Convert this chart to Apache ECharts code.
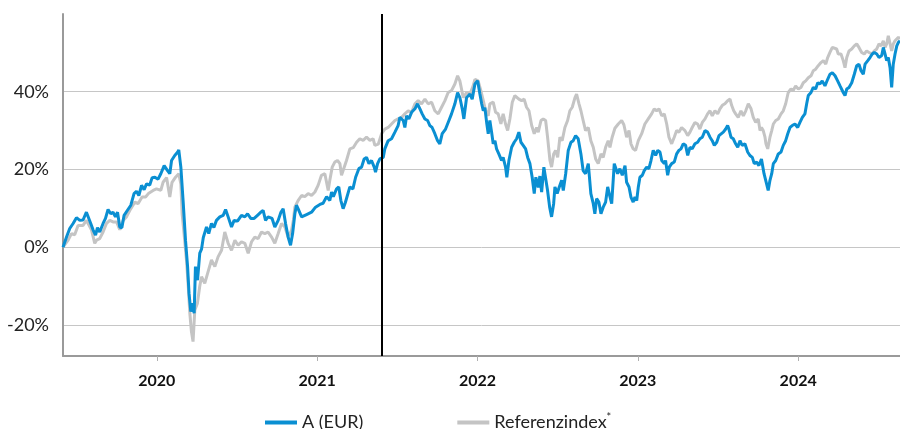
<!DOCTYPE html>
<html>
<head>
<meta charset="utf-8">
<script src="https://cdn.jsdelivr.net/npm/echarts@6/dist/echarts.min.js"></script>
<style>
  html, body { margin: 0; padding: 0; background: #fff; }
  #chart { width: 900px; height: 429px; }
</style>
</head>
<body>
<div id="chart"></div>
<script>
// time in decimal years, values in % since start
var fundTime = [2019.415,2019.437,2019.457,2019.478,2019.499,2019.520,2019.540,2019.561,2019.571,2019.588,2019.603,2019.618,2019.630,2019.644,2019.665,2019.680,2019.696,2019.713,2019.727,2019.742,2019.755,2019.769,2019.782,2019.796,2019.817,2019.838,2019.858,2019.873,2019.888,2019.905,2019.921,2019.936,2019.956,2019.971,2019.988,2020.008,2020.025,2020.046,2020.067,2020.081,2020.092,2020.112,2020.129,2020.137,2020.150,2020.164,2020.179,2020.192,2020.201,2020.212,2020.223,2020.233,2020.241,2020.254,2020.268,2020.279,2020.290,2020.310,2020.324,2020.341,2020.356,2020.372,2020.393,2020.414,2020.429,2020.445,2020.466,2020.482,2020.503,2020.528,2020.549,2020.566,2020.586,2020.607,2020.628,2020.649,2020.663,2020.678,2020.694,2020.719,2020.736,2020.757,2020.774,2020.788,2020.803,2020.819,2020.834,2020.847,2020.861,2020.871,2020.881,2020.903,2020.934,2020.965,2020.990,2021.017,2021.037,2021.059,2021.079,2021.090,2021.101,2021.121,2021.135,2021.148,2021.162,2021.176,2021.204,2021.223,2021.240,2021.260,2021.277,2021.293,2021.308,2021.323,2021.339,2021.356,2021.364,2021.377,2021.391,2021.412,2021.422,2021.443,2021.464,2021.485,2021.505,2021.516,2021.537,2021.547,2021.558,2021.572,2021.589,2021.610,2021.626,2021.641,2021.655,2021.672,2021.689,2021.703,2021.717,2021.734,2021.751,2021.765,2021.780,2021.801,2021.822,2021.838,2021.859,2021.876,2021.890,2021.905,2021.915,2021.932,2021.953,2021.967,2021.984,2022.001,2022.015,2022.026,2022.036,2022.046,2022.057,2022.067,2022.077,2022.088,2022.098,2022.109,2022.119,2022.133,2022.150,2022.160,2022.175,2022.183,2022.196,2022.213,2022.229,2022.244,2022.258,2022.271,2022.285,2022.300,2022.313,2022.327,2022.341,2022.354,2022.364,2022.379,2022.389,2022.400,2022.414,2022.425,2022.437,2022.450,2022.462,2022.475,2022.483,2022.497,2022.510,2022.525,2022.535,2022.550,2022.566,2022.583,2022.597,2022.612,2022.628,2022.645,2022.659,2022.674,2022.691,2022.707,2022.722,2022.732,2022.743,2022.757,2022.770,2022.784,2022.799,2022.812,2022.826,2022.837,2022.853,2022.874,2022.888,2022.903,2022.920,2022.930,2022.945,2022.957,2022.971,2022.982,2022.993,2023.003,2023.013,2023.028,2023.040,2023.055,2023.069,2023.082,2023.096,2023.111,2023.124,2023.138,2023.149,2023.165,2023.173,2023.186,2023.196,2023.211,2023.227,2023.242,2023.256,2023.269,2023.283,2023.298,2023.311,2023.325,2023.339,2023.356,2023.373,2023.387,2023.402,2023.419,2023.435,2023.450,2023.464,2023.477,2023.492,2023.506,2023.518,2023.533,2023.548,2023.560,2023.568,2023.581,2023.595,2023.610,2023.623,2023.637,2023.651,2023.668,2023.685,2023.699,2023.714,2023.726,2023.741,2023.755,2023.771,2023.787,2023.803,2023.813,2023.824,2023.835,2023.845,2023.860,2023.876,2023.893,2023.907,2023.922,2023.935,2023.949,2023.963,2023.980,2023.997,2024.011,2024.026,2024.042,2024.053,2024.063,2024.080,2024.094,2024.109,2024.122,2024.136,2024.150,2024.167,2024.184,2024.198,2024.213,2024.230,2024.246,2024.261,2024.271,2024.281,2024.292,2024.303,2024.317,2024.334,2024.350,2024.365,2024.379,2024.392,2024.406,2024.417,2024.434,2024.448,2024.462,2024.475,2024.490,2024.504,2024.521,2024.531,2024.542,2024.552,2024.562,2024.573,2024.583,2024.593,2024.604,2024.615,2024.625,2024.635];
var fundValues = [0,2.6,4.8,6.1,7.6,6.9,7.0,9.0,9.4,6.1,4.4,3.1,5.0,3.9,6.1,7.4,9.7,8.6,9.0,7.8,9.0,5.2,5.0,8.2,9.5,10.8,13.8,14.4,13.3,15.9,14.8,16.3,16.0,17.9,18.0,17.5,18.9,21.0,19.7,18.9,22.3,23.6,24.4,25.0,20.6,12.0,1.8,-5.0,-11.9,-16.6,-14.4,-17.0,-5.0,-8.5,-1.5,-0.5,2.5,5.2,3.5,6.1,5.1,6.9,7.8,8.2,9.7,7.8,5.2,6.9,6.7,8.2,7.8,8.6,7.4,7.4,8.2,9.0,9.5,6.9,7.8,7.4,5.2,6.9,9.0,9.9,6.1,2.6,0.5,3.5,8.6,10.8,9.9,7.8,8.4,9.0,10.3,11.0,11.3,13.0,12.0,14.2,13.0,15.0,15.5,12.0,9.9,11.5,15.5,15.0,18.0,20.2,20.6,22.7,23.1,21.5,22.3,20.6,19.3,21.5,22.7,23.1,25.3,27.4,27.9,29.6,31.3,33.4,32.6,30.8,33.8,33.0,34.7,35.6,36.9,35.6,34.3,33.0,32.6,31.3,30.8,29.2,27.4,26.6,29.2,30.4,32.6,34.3,36.9,39.8,38.5,35.6,33.0,38.5,39.4,38.1,42.0,42.8,39.4,36.9,35.1,35.9,32.1,29.2,32.6,29.6,26.6,27.4,25.3,24.0,22.3,23.1,20.6,18.0,22.3,25.7,27.0,27.9,29.6,27.0,26.2,25.3,23.1,21.5,18.0,13.8,18.0,15.4,18.3,14.2,20.6,21.0,14.6,10.3,7.8,11.2,15.5,13.8,15.5,17.2,14.6,18.9,24.9,27.0,27.4,28.7,27.9,24.0,19.7,18.9,21.5,13.8,11.2,8.6,12.5,11.6,8.6,10.3,11.6,15.5,13.0,11.2,21.5,18.9,20.2,18.5,21.0,16.7,15.5,12.9,11.6,12.9,12.0,15.5,18.0,18.5,19.7,20.6,20.2,22.3,24.9,23.6,24.9,24.5,22.3,21.5,22.3,18.5,20.6,21.5,21.9,24.0,24.9,25.3,26.6,26.2,23.6,25.7,25.3,26.6,27.0,27.9,28.3,30.0,29.6,28.3,27.4,26.2,27.0,28.7,28.3,29.6,30.4,31.3,30.4,28.3,27.9,26.6,25.7,27.4,26.2,26.6,24.5,23.6,23.1,21.5,21.9,21.0,22.7,18.9,16.3,14.6,17.2,18.9,21.5,22.3,24.0,24.5,26.2,27.4,29.2,30.8,31.3,31.7,30.8,32.1,33.4,34.3,36.9,39.0,39.8,41.1,40.7,42.3,42.0,42.8,41.5,43.2,44.5,44.9,44.1,42.8,41.5,41.1,39.8,39.0,40.7,41.1,42.3,44.5,46.7,47.1,45.4,44.5,47.1,48.0,48.8,49.7,50.1,49.7,48.8,49.3,51.4,49.7,48.0,48.8,46.2,41.1,47.1,49.7,51.8,52.7,53.1];

var refTime = [2019.415,2019.447,2019.468,2019.488,2019.509,2019.540,2019.561,2019.571,2019.593,2019.613,2019.624,2019.644,2019.665,2019.686,2019.707,2019.727,2019.749,2019.769,2019.790,2019.811,2019.832,2019.863,2019.883,2019.908,2019.930,2019.950,2019.977,2019.998,2020.025,2020.039,2020.061,2020.081,2020.095,2020.117,2020.137,2020.150,2020.158,2020.170,2020.185,2020.195,2020.206,2020.216,2020.226,2020.237,2020.253,2020.268,2020.279,2020.299,2020.320,2020.341,2020.362,2020.382,2020.404,2020.424,2020.435,2020.445,2020.466,2020.487,2020.507,2020.528,2020.549,2020.570,2020.591,2020.611,2020.632,2020.653,2020.674,2020.694,2020.716,2020.736,2020.757,2020.778,2020.799,2020.819,2020.840,2020.852,2020.861,2020.881,2020.903,2020.923,2020.944,2020.965,2020.986,2021.006,2021.027,2021.048,2021.069,2021.079,2021.094,2021.110,2021.127,2021.142,2021.152,2021.162,2021.183,2021.204,2021.225,2021.246,2021.266,2021.287,2021.308,2021.329,2021.349,2021.360,2021.381,2021.402,2021.422,2021.443,2021.464,2021.485,2021.505,2021.527,2021.547,2021.568,2021.589,2021.610,2021.630,2021.651,2021.672,2021.692,2021.714,2021.734,2021.755,2021.776,2021.797,2021.817,2021.838,2021.859,2021.876,2021.890,2021.911,2021.932,2021.953,2021.973,2021.984,2022.004,2022.021,2022.036,2022.051,2022.067,2022.077,2022.098,2022.113,2022.129,2022.146,2022.160,2022.175,2022.188,2022.202,2022.217,2022.233,2022.244,2022.258,2022.275,2022.291,2022.306,2022.321,2022.338,2022.354,2022.369,2022.379,2022.396,2022.410,2022.425,2022.437,2022.452,2022.462,2022.475,2022.487,2022.500,2022.514,2022.528,2022.545,2022.562,2022.576,2022.591,2022.608,2022.618,2022.633,2022.645,2022.659,2022.674,2022.691,2022.707,2022.722,2022.737,2022.753,2022.770,2022.784,2022.799,2022.815,2022.826,2022.840,2022.857,2022.878,2022.899,2022.913,2022.930,2022.945,2022.957,2022.971,2022.986,2023.003,2023.024,2023.044,2023.065,2023.086,2023.102,2023.117,2023.132,2023.149,2023.165,2023.180,2023.194,2023.211,2023.227,2023.242,2023.256,2023.273,2023.294,2023.311,2023.325,2023.339,2023.356,2023.373,2023.387,2023.402,2023.419,2023.435,2023.450,2023.464,2023.481,2023.498,2023.512,2023.527,2023.543,2023.560,2023.575,2023.585,2023.598,2023.610,2023.626,2023.643,2023.658,2023.673,2023.689,2023.706,2023.720,2023.735,2023.751,2023.762,2023.771,2023.782,2023.793,2023.799,2023.810,2023.824,2023.835,2023.845,2023.860,2023.876,2023.893,2023.907,2023.922,2023.938,2023.955,2023.969,2023.984,2024.001,2024.017,2024.032,2024.047,2024.063,2024.080,2024.094,2024.109,2024.125,2024.142,2024.157,2024.172,2024.184,2024.198,2024.213,2024.225,2024.240,2024.250,2024.267,2024.281,2024.292,2024.303,2024.317,2024.334,2024.350,2024.365,2024.379,2024.396,2024.412,2024.427,2024.442,2024.459,2024.475,2024.490,2024.504,2024.517,2024.531,2024.542,2024.552,2024.562,2024.573,2024.583,2024.593,2024.604,2024.615,2024.625,2024.635];
var refValues = [0,1.8,3.5,3.2,5.6,5.6,6.9,6.9,4.4,1.0,1.8,2.2,3.9,6.1,6.9,6.5,6.5,4.5,6.9,7.8,9.5,11.6,11.2,12.9,12.9,13.9,14.6,15.0,14.6,16.7,17.9,12.9,16.7,18.0,18.9,16.3,8.6,3.5,-3.3,-9.3,-17.0,-21.7,-24.3,-16.2,-14.5,-10.0,-7.6,-9.3,-6.3,-3.3,-5.0,-2.5,-0.8,3.9,4.3,1.0,-0.8,1.8,0.5,1.4,1.0,-1.6,1.4,2.6,2.2,3.9,3.5,3.9,2.6,1.0,3.5,6.1,5.2,2.6,4.3,7.0,10.3,12.0,13.3,13.0,13.8,13.3,14.2,15.9,18.5,18.9,14.6,17.2,20.6,21.9,22.3,21.5,18.5,18.9,22.3,25.3,25.6,27.0,27.9,27.5,28.3,27.5,27.9,26.2,26.5,29.2,30.4,30.8,31.7,32.6,33.0,33.4,34.3,35.1,34.7,36.9,37.7,36.9,38.1,36.9,37.3,35.1,34.3,36.0,37.7,39.8,40.3,42.0,44.1,42.8,38.5,39.8,39.4,41.5,43.2,42.8,40.3,37.7,35.1,33.8,36.9,37.3,34.7,34.3,31.7,34.3,31.7,30.0,33.0,37.3,39.0,39.4,38.1,37.7,38.1,36.0,35.1,31.3,29.2,30.8,29.6,32.6,33.0,32.6,28.3,22.3,20.6,24.0,24.9,23.1,28.3,27.4,30.8,32.6,35.1,36.0,38.5,39.4,36.9,35.1,32.6,30.0,30.8,27.4,25.7,22.7,21.5,24.0,23.1,25.7,27.4,25.7,28.3,30.6,31.7,32.6,31.5,28.3,30.0,26.6,25.3,24.9,27.4,29.2,31.7,33.0,34.3,35.6,35.1,35.6,33.8,34.3,31.7,28.3,26.6,28.3,30.0,29.6,30.8,30.0,28.7,29.6,30.8,32.1,31.7,30.4,32.1,33.0,34.3,35.1,33.8,35.1,34.3,35.6,36.5,36.9,37.7,38.1,36.5,35.1,34.3,33.4,35.1,33.8,35.1,36.9,35.6,33.4,32.1,33.0,30.0,30.8,30.0,28.3,26.6,25.3,28.3,30.0,31.7,32.6,33.0,34.3,35.1,36.9,39.8,40.7,40.3,41.5,40.7,41.1,42.3,42.8,43.6,44.1,45.4,45.8,46.7,47.5,48.0,47.1,48.8,50.1,51.4,51.8,51.0,49.7,49.7,48.0,46.2,48.8,50.5,51.0,51.8,52.3,51.4,50.1,49.7,50.5,50.1,49.7,50.5,51.0,52.3,51.8,53.1,51.4,52.3,54.4,54.9,50.5,52.3,53.1,53.6,54.0,53.6];

var yearTicks = [2020, 2021, 2022, 2023, 2024];
var pctTicks = [-20, 0, 20, 40];
var launchTime = 2021.399; // vertical marker
var seriesNames = ['A (EUR)', 'Referenzindex'];

function pairs(t, v) {
  var out = [];
  for (var i = 0; i < t.length; i++) out.push([t[i], v[i]]);
  return out;
}

var chart = echarts.init(document.getElementById('chart'), null, { renderer: 'canvas' });

chart.setOption({
  animation: false,
  textStyle: { fontFamily: 'Lato, "Noto Sans", sans-serif' },
  grid: { left: 63, right: 0, top: 14, bottom: 73 },
  legend: {
    left: 260,
    top: 407,
    data: seriesNames,
    icon: 'rect',
    itemWidth: 32,
    itemHeight: 4,
    itemGap: 94,
    textStyle: {
      fontSize: 18,
      color: '#222',
      rich: { sup: { fontSize: 11, verticalAlign: 'top', padding: [0, 0, 10, 0], color: '#222' } }
    },
    formatter: function (name) {
      return name === 'Referenzindex' ? name + '{sup|*}' : name;
    }
  },
  xAxis: {
    type: 'value',
    min: fundTime[0],
    max: fundTime[fundTime.length - 1],
    axisLine: { onZero: false, lineStyle: { color: '#9a9a9a', width: 2 } },
    axisTick: { show: true, customValues: yearTicks, length: 5, lineStyle: { color: '#b0b0b0', width: 1 } },
    axisLabel: {
      customValues: yearTicks,
      formatter: function (v) { return String(v); },
      fontSize: 16,
      fontWeight: 'bold',
      color: '#111',
      margin: 17
    },
    splitLine: { show: false }
  },
  yAxis: {
    type: 'value',
    min: -28,
    max: 60,
    axisLine: { show: true, onZero: false, lineStyle: { color: '#9a9a9a', width: 2 } },
    axisTick: { show: false },
    axisLabel: {
      customValues: pctTicks,
      formatter: '{value}%',
      fontSize: 18,
      color: '#222',
      margin: 14
    },
    splitLine: {
      show: true,
      showMinLine: false,
      showMaxLine: false,
      lineStyle: { color: '#c6c6c6', width: 1 }
    }
  },
  series: [
    {
      name: 'Referenzindex',
      type: 'line',
      data: pairs(refTime, refValues),
      showSymbol: false,
      symbol: 'none',
      color: '#c4c4c4',
      lineStyle: { width: 3, color: '#c4c4c4' },
      z: 2
    },
    {
      name: 'A (EUR)',
      type: 'line',
      data: pairs(fundTime, fundValues),
      showSymbol: false,
      symbol: 'none',
      color: '#0a8fd2',
      lineStyle: { width: 3, color: '#0a8fd2' },
      z: 3,
      markLine: {
        silent: true,
        symbol: 'none',
        label: { show: false },
        lineStyle: { color: '#000', width: 2, type: 'solid' },
        data: [{ xAxis: launchTime }]
      }
    }
  ]
});
</script>
</body>
</html>
